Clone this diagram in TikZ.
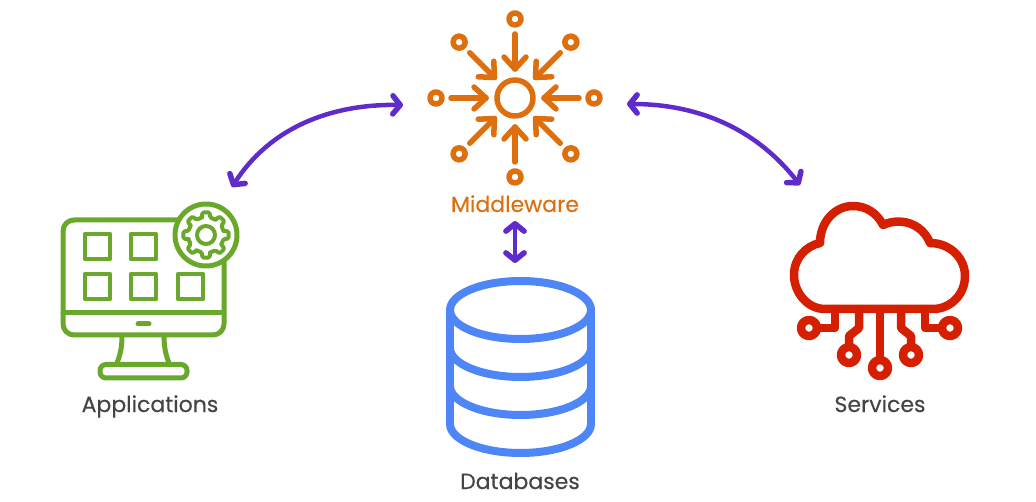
\documentclass[tikz,border=0pt]{standalone}
\usepackage{fontspec}
\setmainfont{Poppins}[FakeBold=0.25]
\usepackage{tikz}
\usetikzlibrary{arrows.meta}

\definecolor{appgreen}{HTML}{6AA82C}
\definecolor{midorange}{HTML}{DD6F0F}
\definecolor{dbblue}{HTML}{4F86F7}
\definecolor{svcred}{HTML}{D41F00}
\definecolor{linkpurple}{HTML}{5F2CCB}
\definecolor{labelgray}{HTML}{444444}

\begin{document}
\begin{tikzpicture}[
  x=1pt, y=-1pt,
  every node/.style={font=\fontsize{22}{26}\selectfont, text=labelgray, inner sep=0pt, anchor=base},
  icon/.style={line cap=round, line join=round},
  appline/.style={icon, draw=appgreen, line width=5pt},
  midline/.style={icon, draw=midorange, line width=5.5pt},
  dbline/.style={icon, draw=dbblue, line width=8pt},
  svcline/.style={icon, draw=svcred, line width=8.5pt},
  arr/.style={draw=linkpurple, line width=4.5pt, line cap=round, >={Straight Barb[length=2.6mm, width=6.4mm, line width=5.5pt, round]}, <->}
]
\useasboundingbox (0,0) rectangle (1036,502);

% labels
\node (apps)  at (150, 412) {Applications};
\node[text=midorange] (middle) at (515, 212) {Middleware};
\node (dbs)   at (520, 489) {Databases};
\node (svc)   at (880, 412) {Services};

% ends of the links
\coordinate (midL) at (403, 105);
\coordinate (midR) at (627, 104);
\coordinate (appT) at (232, 187);
\coordinate (svcT) at (800, 185);
\coordinate (dbT)  at (515, 263);
\coordinate (midB) at (515, 221);

% middleware
\draw[midline] (515, 98) circle (18);
\foreach \a in {0,45,...,315} {
  \begin{scope}[shift={(515, 98)}, rotate=\a]
    \draw[midline] (79, 0) circle (6);
    \draw[midline] (64, 0) -- (29, 0);
    \draw[midline] (41, -11) -- (29, 0) -- (41, 11);
  \end{scope}
}

% applications
\draw[appline, rounded corners=11pt] (63, 220) rectangle (224, 335);
\draw[appline] (63, 313) -- (224, 313);
\draw[appline] (138, 324) -- (149, 324);
\draw[appline] (122, 336) .. controls (122, 348) and (120, 355) .. (117, 363);
\draw[appline] (164, 336) .. controls (164, 348) and (166, 355) .. (169, 363);
\draw[appline, rounded corners=6pt] (100, 364.5) rectangle (187, 378);
\foreach \x/\y in {85/234, 131/234, 85/274, 131/274, 178/274} {
  \draw[appline, line width=4.5pt] (\x, \y) rectangle ++(25, 25);
}
\draw[appline, fill=white] (206, 235) circle (31);
\draw[appline, line width=4pt, rounded corners=1.5pt]
  \foreach \a in {0,45,...,315} {
    ({206+18*cos(\a-13)}, {235+18*sin(\a-13)}) -- ({206+23*cos(\a-9)}, {235+23*sin(\a-9)})
    -- ({206+23*cos(\a+9)}, {235+23*sin(\a+9)}) -- ({206+18*cos(\a+13)}, {235+18*sin(\a+13)})
    -- ({206+18*cos(\a+32)}, {235+18*sin(\a+32)})
  };
\draw[appline, line width=4pt] (206, 235) circle (9);

% databases
\draw[dbline] (520.5, 310) ellipse [x radius=70.5, y radius=29];
\draw[dbline] (450, 310) -- (450, 424);
\draw[dbline] (591, 310) -- (591, 424);
\foreach \y in {348, 386, 424} {
  \draw[dbline] (450, \y) .. controls (450, \y+16) and (482, \y+29) .. (520.5, \y+29)
    .. controls (559, \y+29) and (591, \y+16) .. (591, \y);
}

% services
\draw[svcline] (825, 309) .. controls (807, 309) and (794, 292) .. (794, 275)
  .. controls (794, 258) and (806, 246) .. (820, 243)
  .. controls (820, 222) and (835, 206) .. (853, 206)
  .. controls (866, 206) and (877, 213) .. (883, 225)
  .. controls (900, 217) and (922, 223) .. (930, 243)
  .. controls (950, 243) and (965, 258) .. (965, 276)
  .. controls (965, 295) and (950, 309) .. (933, 309) -- cycle;
\foreach \x/\y in {809/328, 950/328, 849/355, 911/355, 880/368} {
  \draw[svcline] (\x, \y) circle (8);
}
\draw[svcline] (835, 309) -- (835, 328) -- (817, 328);
\draw[svcline] (925, 309) -- (925, 328) -- (942, 328);
\draw[svcline] (859, 309) -- (859, 328) -- (849, 336) -- (849, 347);
\draw[svcline] (901, 309) -- (901, 328) -- (911, 336) -- (911, 347);
\draw[svcline] (880, 309) -- (880, 360);

% links
\draw[arr] (midL) .. controls (330, 104) and (270, 128) .. (appT);
\draw[arr] (midR) .. controls (700, 104) and (757, 130) .. (svcT);
\draw[arr] (midB) -- (dbT);
\end{tikzpicture}
\end{document}
